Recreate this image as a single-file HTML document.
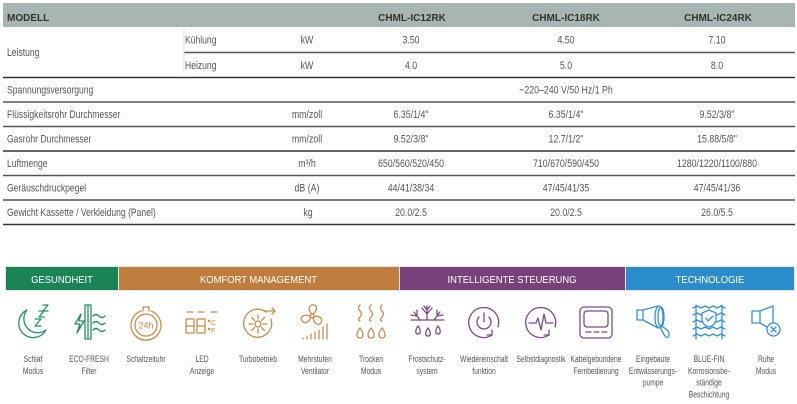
<!DOCTYPE html>
<html><head><meta charset="utf-8"><style>
html,body{margin:0;padding:0;background:#fff;}
svg{display:block;}
</style></head><body>
<svg width="797" height="404" viewBox="0 0 797 404" xmlns="http://www.w3.org/2000/svg">
<rect width="797" height="404" fill="#fff"/>
<!-- header -->
<rect x="3" y="3" width="792" height="24" fill="#a7b6b2"/>
<g font-family="Liberation Sans, sans-serif" font-weight="bold" font-size="10" fill="#333">
<text x="7" y="21">MODELL</text>
<text x="412" y="21" text-anchor="middle">CHML-IC12RK</text>
<text x="566" y="21" text-anchor="middle">CHML-IC18RK</text>
<text x="718" y="21" text-anchor="middle">CHML-IC24RK</text>
</g>
<!-- lines -->
<g stroke="#555" stroke-width="1.4">
<line x1="184" y1="52.5" x2="795" y2="52.5"/>
<line x1="3" y1="77.5" x2="795" y2="77.5" stroke="#333"/>
<line x1="3" y1="102" x2="795" y2="102"/>
<line x1="3" y1="126.5" x2="795" y2="126.5"/>
<line x1="3" y1="151" x2="795" y2="151" stroke="#333"/>
<line x1="3" y1="175.5" x2="795" y2="175.5"/>
<line x1="3" y1="200" x2="795" y2="200"/>
<line x1="3" y1="224.5" x2="795" y2="224.5" stroke="#333"/>
</g>
<line x1="184" y1="28" x2="184" y2="77" stroke="#e4e4e4" stroke-width="1"/>
<!-- table text -->
<g font-family="Liberation Sans, sans-serif" font-size="11" fill="#555">
<text transform="translate(7,56) scale(0.78,1)">Leistung</text>
<text transform="translate(185,43.7) scale(0.78,1)">Kühlung</text>
<text transform="translate(185,69) scale(0.78,1)">Heizung</text>
<text transform="translate(7,93.7) scale(0.78,1)">Spannungsversorgung</text>
<text transform="translate(7,118.2) scale(0.78,1)">Flüssigkeitsrohr Durchmesser</text>
<text transform="translate(7,142.7) scale(0.78,1)">Gasrohr Durchmesser</text>
<text transform="translate(7,167.2) scale(0.78,1)">Luftmenge</text>
<text transform="translate(7,191.7) scale(0.78,1)">Geräuschdruckpegel</text>
<text transform="translate(7,216.2) scale(0.78,1)">Gewicht Kassette / Verkleidung (Panel)</text>
</g>
<g font-family="Liberation Sans, sans-serif" font-size="11" fill="#555" text-anchor="middle">
<text transform="translate(307,43.7) scale(0.8,1)">kW</text>
<text transform="translate(307,69) scale(0.8,1)">kW</text>
<text transform="translate(307,118.2) scale(0.8,1)">mm/zoll</text>
<text transform="translate(307,142.7) scale(0.8,1)">mm/zoll</text>
<text transform="translate(307,167.2) scale(0.8,1)">m³/h</text>
<text transform="translate(307,191.7) scale(0.8,1)">dB (A)</text>
<text transform="translate(308,216.2) scale(0.8,1)">kg</text>

<text transform="translate(411,43.7) scale(0.8,1)">3.50</text>
<text transform="translate(566,43.7) scale(0.8,1)">4.50</text>
<text transform="translate(717,43.7) scale(0.8,1)">7.10</text>
<text transform="translate(411,69) scale(0.8,1)">4.0</text>
<text transform="translate(566,69) scale(0.8,1)">5.0</text>
<text transform="translate(717,69) scale(0.8,1)">8.0</text>
<text transform="translate(566,93.7) scale(0.8,1)">~220–240 V/50 Hz/1 Ph</text>
<text transform="translate(411,118.2) scale(0.8,1)">6.35/1/4"</text>
<text transform="translate(566,118.2) scale(0.8,1)">6.35/1/4"</text>
<text transform="translate(717,118.2) scale(0.8,1)">9.52/3/8"</text>
<text transform="translate(411,142.7) scale(0.8,1)">9.52/3/8"</text>
<text transform="translate(566,142.7) scale(0.8,1)">12.7/1/2"</text>
<text transform="translate(717,142.7) scale(0.8,1)">15.88/5/8"</text>
<text transform="translate(411,167.2) scale(0.8,1)">650/560/520/450</text>
<text transform="translate(566,167.2) scale(0.8,1)">710/670/590/450</text>
<text transform="translate(717,167.2) scale(0.8,1)">1280/1220/1100/880</text>
<text transform="translate(411,191.7) scale(0.8,1)">44/41/38/34</text>
<text transform="translate(566,191.7) scale(0.8,1)">47/45/41/35</text>
<text transform="translate(717,191.7) scale(0.8,1)">47/45/41/36</text>
<text transform="translate(411,216.2) scale(0.8,1)">20.0/2.5</text>
<text transform="translate(566,216.2) scale(0.8,1)">20.0/2.5</text>
<text transform="translate(717,216.2) scale(0.8,1)">26.0/5.5</text>
</g>

<!-- category bars -->
<rect x="5" y="266" width="790" height="25" fill="#e6e6e6"/>
<rect x="6" y="267" width="112" height="23" fill="#1a8456"/>
<rect x="119" y="267" width="280" height="23" fill="#be7d3d"/>
<rect x="400" y="267" width="225" height="23" fill="#774279"/>
<rect x="626" y="267" width="168" height="23" fill="#2b8ccb"/>
<g font-family="Liberation Sans, sans-serif" font-size="10.5" fill="#fff" text-anchor="middle">
<text transform="translate(62,283) scale(0.9,1)">GESUNDHEIT</text>
<text transform="translate(258.5,283) scale(0.9,1)">KOMFORT MANAGEMENT</text>
<text transform="translate(512,283) scale(0.9,1)">INTELLIGENTE STEUERUNG</text>
<text transform="translate(710,283) scale(0.9,1)">TECHNOLOGIE</text>
</g>

<!-- icons -->
<g fill="none" stroke-width="1.3" stroke-linecap="round" stroke-linejoin="round">
<!-- 1 Schlaf -->
<g transform="translate(33,322)" stroke="#259060">
<path d="M-6,-12 A14.5,14.5 0 1 0 13,8 A13.9,13.9 0 0 1 -6,-12"/>
<path d="M2,-3 H8 L2,4 H8 M6,-11 H11 L6,-5 H11 M10,-17 H15 L10,-11 H15"/>
</g>
<!-- 2 ECO-FRESH -->
<g transform="translate(89,322)" stroke="#259060">
<path d="M-4,-17 V17 M2,-17 V17 M-4,-17 H2 M-4,17 H2 M-1,-17 V17"/>
<path d="M-8,-8 L-14,2 L-9,2 L-12,11 L-5,-1 L-10,-1 Z"/>
<path d="M4,-6 q3,-3 6,0 t6,0 M4,1 q3,-3 6,0 t6,0 M4,8 q3,-3 6,0 t6,0"/>
</g>
<!-- 3 Schaltzeituhr -->
<g transform="translate(146,322)" stroke="#cc8a48">
<circle cx="0" cy="3" r="11"/>
<path d="M-5,-11 A15,15 0 1 0 5,-11"/>
<path d="M-3,-11 V-15 H3 V-11"/>
<text x="0" y="6.5" font-family="Liberation Sans, sans-serif" font-size="9" fill="#cc8a48" stroke="none" text-anchor="middle">24h</text>
</g>
<!-- 4 LED -->
<g transform="translate(202,322)" stroke="#cc8a48">
<path d="M-15,-10 H-9 M-4,-10 H2 M9,-10 H15"/>
<rect x="-16" y="-3" width="8" height="14"/>
<path d="M-16,4 H-8"/>
<rect x="-5" y="-3" width="8" height="14"/>
<path d="M-5,4 H3"/>
<circle cx="7" cy="-1" r="0.6"/>
<circle cx="7" cy="7" r="0.6"/>
<text x="9" y="3" font-family="Liberation Sans, sans-serif" font-size="7" fill="#cc8a48" stroke="none">C</text>
<text x="9" y="11" font-family="Liberation Sans, sans-serif" font-size="7" fill="#cc8a48" stroke="none">F</text>
</g>
<!-- 5 Turbo -->
<g transform="translate(258,322)" stroke="#cc8a48">
<path d="M8,-10 A14,14 0 1 0 13,-3"/>
<circle cx="0" cy="2" r="3"/>
<path d="M0,-3 V-7 M0,7 V11 M-5,2 H-9 M5,2 H9 M-3.5,-1.5 L-6.4,-4.4 M3.5,-1.5 L6.4,-4.4 M-3.5,5.5 L-6.4,8.4 M3.5,5.5 L6.4,8.4"/>
<path d="M6,-11 H17 M14,-14 L17,-11 L14,-8"/>
</g>
<!-- 6 Ventilator -->
<g transform="translate(315,322)" stroke="#cc8a48">
<g transform="translate(-3,-6)">
<circle cx="0" cy="0" r="2"/>
<path d="M0,-2 C-5,-6 -3,-12 2,-11 C6,-10 5,-5 1,-2"/>
<path transform="rotate(120)" d="M0,-2 C-5,-6 -3,-12 2,-11 C6,-10 5,-5 1,-2"/>
<path transform="rotate(240)" d="M0,-2 C-5,-6 -3,-12 2,-11 C6,-10 5,-5 1,-2"/>
</g>
<path d="M-12,17 V16 M-8,17 V14 M-4,17 V12 M0,17 V10 M4,17 V8 M8,17 V5 M12,17 V2"/>
</g>
<!-- 7 Trocken -->
<g transform="translate(371,322)" stroke="#cc8a48">
<path d="M-11,-17 q-3,3 0,6 t0,6 t0,4 M0,-17 q-3,3 0,6 t0,6 t0,4 M11,-17 q-3,3 0,6 t0,6 t0,4"/>
<path d="M-11,6 C-15,11 -15,16 -11,16 C-7,16 -7,11 -11,6 M0,6 C-4,11 -4,16 0,16 C4,16 4,11 0,6 M11,6 C7,11 7,16 11,16 C15,16 15,11 11,6"/>
</g>
<!-- 8 Frost -->
<g transform="translate(427,322)" stroke="#7e4a87">
<path d="M-16,-2 H17"/>
<path d="M0,-2 V-16 M0,-8 L-5,-14 M0,-8 L5,-14 M0,-12 L-3,-16 M0,-12 L3,-16 M-7,-2 L-13,-10 M-10,-6 L-16,-7 M-10,-6 L-10,-12 M7,-2 L13,-10 M10,-6 L16,-7 M10,-6 L10,-12"/>
<path d="M-9,4 C-12,8 -12,12 -9,12 C-6,12 -6,8 -9,4 M1,6 C-2,10 -2,14 1,14 C4,14 4,10 1,6 M11,4 C8,8 8,12 11,12 C14,12 14,8 11,4"/>
</g>
<!-- 9 Wiedereinschalt -->
<g transform="translate(484,322)" stroke="#7e4a87">
<path d="M8,13 A15,15 0 1 1 14,5"/>
<path d="M8,13 L3,13 M8,13 L8,8"/>
<path d="M-5,-5 A7,7 0 1 0 5,-5 M0,-9 V0"/>
</g>
<!-- 10 Selbstdiagnostik -->
<g transform="translate(541,322)" stroke="#7e4a87">
<path d="M8,13 A15,15 0 1 1 14,5"/>
<path d="M8,13 L3,13 M8,13 L8,8"/>
<path d="M-12,1 H-5 L-3,-4 L0,8 L3,-8 L5,1 H12"/>
</g>
<!-- 11 Remote -->
<g transform="translate(596,322)" stroke="#7e4a87">
<rect x="-16" y="-15" width="32" height="31" rx="4"/>
<rect x="-12" y="-11" width="24" height="16" rx="3"/>
<path d="M-10,10 H-5 M-2,10 H3 M6,10 H11"/>
</g>
<!-- 12 Pump -->
<g transform="translate(653,322)" stroke="#3592d6">
<path d="M-16,-12 H-10 V-2 H-16 Z"/>
<path d="M-10,-12 L5,-16 M-10,-2 L5,6"/>
<ellipse cx="6" cy="-5" rx="4" ry="11"/>
<ellipse cx="8" cy="-5" rx="3" ry="10"/>
<path d="M7,4 C9,9 10,12 13,15 C16,17 17,12 15,9 C13,6 10,6 8,3"/>
</g>
<!-- 13 BLUE-FIN -->
<g transform="translate(709,322)" stroke="#3592d6">
<path d="M-13,-17 V17 M13,-17 V17"/>
<path d="M-16,-14 l4,-2 l4,2 l4,-2 l4,2 l4,-2 l4,2 l4,-2 l4,2 M-16,-7 l4,-2 l4,2 l4,-2 l4,2 l4,-2 l4,2 l4,-2 l4,2 M-16,0 l4,-2 l4,2 l4,-2 l4,2 l4,-2 l4,2 l4,-2 l4,2 M-16,7 l4,-2 l4,2 l4,-2 l4,2 l4,-2 l4,2 l4,-2 l4,2 M-16,14 l4,-2 l4,2 l4,-2 l4,2 l4,-2 l4,2 l4,-2 l4,2"/>
<path d="M0,-12 L7,-9 V-3 C7,1 4,4 0,5 C-4,4 -7,1 -7,-3 V-9 Z" fill="#fff"/>
<path d="M-3,-4 L-1,-1 L4,-6"/>
</g>
<!-- 14 Ruhe -->
<g transform="translate(766,322)" stroke="#3592d6">
<path d="M-14,-11 H-6 L7,-16 V4 M-14,-11 V1 H-6 L1,5"/>
<path d="M-6,-11 V1"/>
<circle cx="7.5" cy="7.5" r="6.5" fill="#fff"/>
<path d="M5,5 L10,10 M10,5 L5,10"/>
</g>
</g>

<!-- icon labels -->
<g font-family="Liberation Sans, sans-serif" font-size="9" fill="#555" text-anchor="middle">
<text transform="translate(33,362) scale(0.75,1)">Schlaf</text>
<text transform="translate(33,373.8) scale(0.75,1)">Modus</text>
<text transform="translate(89,362) scale(0.75,1)">ECO-FRESH</text>
<text transform="translate(89,373.8) scale(0.75,1)">Filter</text>
<text transform="translate(146,362) scale(0.75,1)">Schaltzeituhr</text>
<text transform="translate(202,362) scale(0.75,1)">LED</text>
<text transform="translate(202,373.8) scale(0.75,1)">Anzeige</text>
<text transform="translate(258,362) scale(0.75,1)">Turbobetrieb</text>
<text transform="translate(315,362) scale(0.75,1)">Mehrstufen</text>
<text transform="translate(315,373.8) scale(0.75,1)">Ventilator</text>
<text transform="translate(371,362) scale(0.75,1)">Trocken</text>
<text transform="translate(371,373.8) scale(0.75,1)">Modus</text>
<text transform="translate(427,362) scale(0.75,1)">Frostschutz-</text>
<text transform="translate(427,373.8) scale(0.75,1)">system</text>
<text transform="translate(484,362) scale(0.75,1)">Wiedereinschalt</text>
<text transform="translate(484,373.8) scale(0.75,1)">funktion</text>
<text transform="translate(541,362) scale(0.75,1)">Selbstdiagnostik</text>
<text transform="translate(596,362) scale(0.75,1)">Kabelgebundene</text>
<text transform="translate(596,373.8) scale(0.75,1)">Fernbedienung</text>
<text transform="translate(653,362) scale(0.75,1)">Eingebaute</text>
<text transform="translate(653,373.8) scale(0.75,1)">Entwässerungs-</text>
<text transform="translate(653,385.6) scale(0.75,1)">pumpe</text>
<text transform="translate(709,362) scale(0.75,1)">BLUE-FIN</text>
<text transform="translate(709,373.8) scale(0.75,1)">Korrosionsbe-</text>
<text transform="translate(709,385.6) scale(0.75,1)">ständige</text>
<text transform="translate(709,397.4) scale(0.75,1)">Beschichtung</text>
<text transform="translate(766,362) scale(0.75,1)">Ruhe</text>
<text transform="translate(766,373.8) scale(0.75,1)">Modus</text>
</g>
</svg>
</body></html>
